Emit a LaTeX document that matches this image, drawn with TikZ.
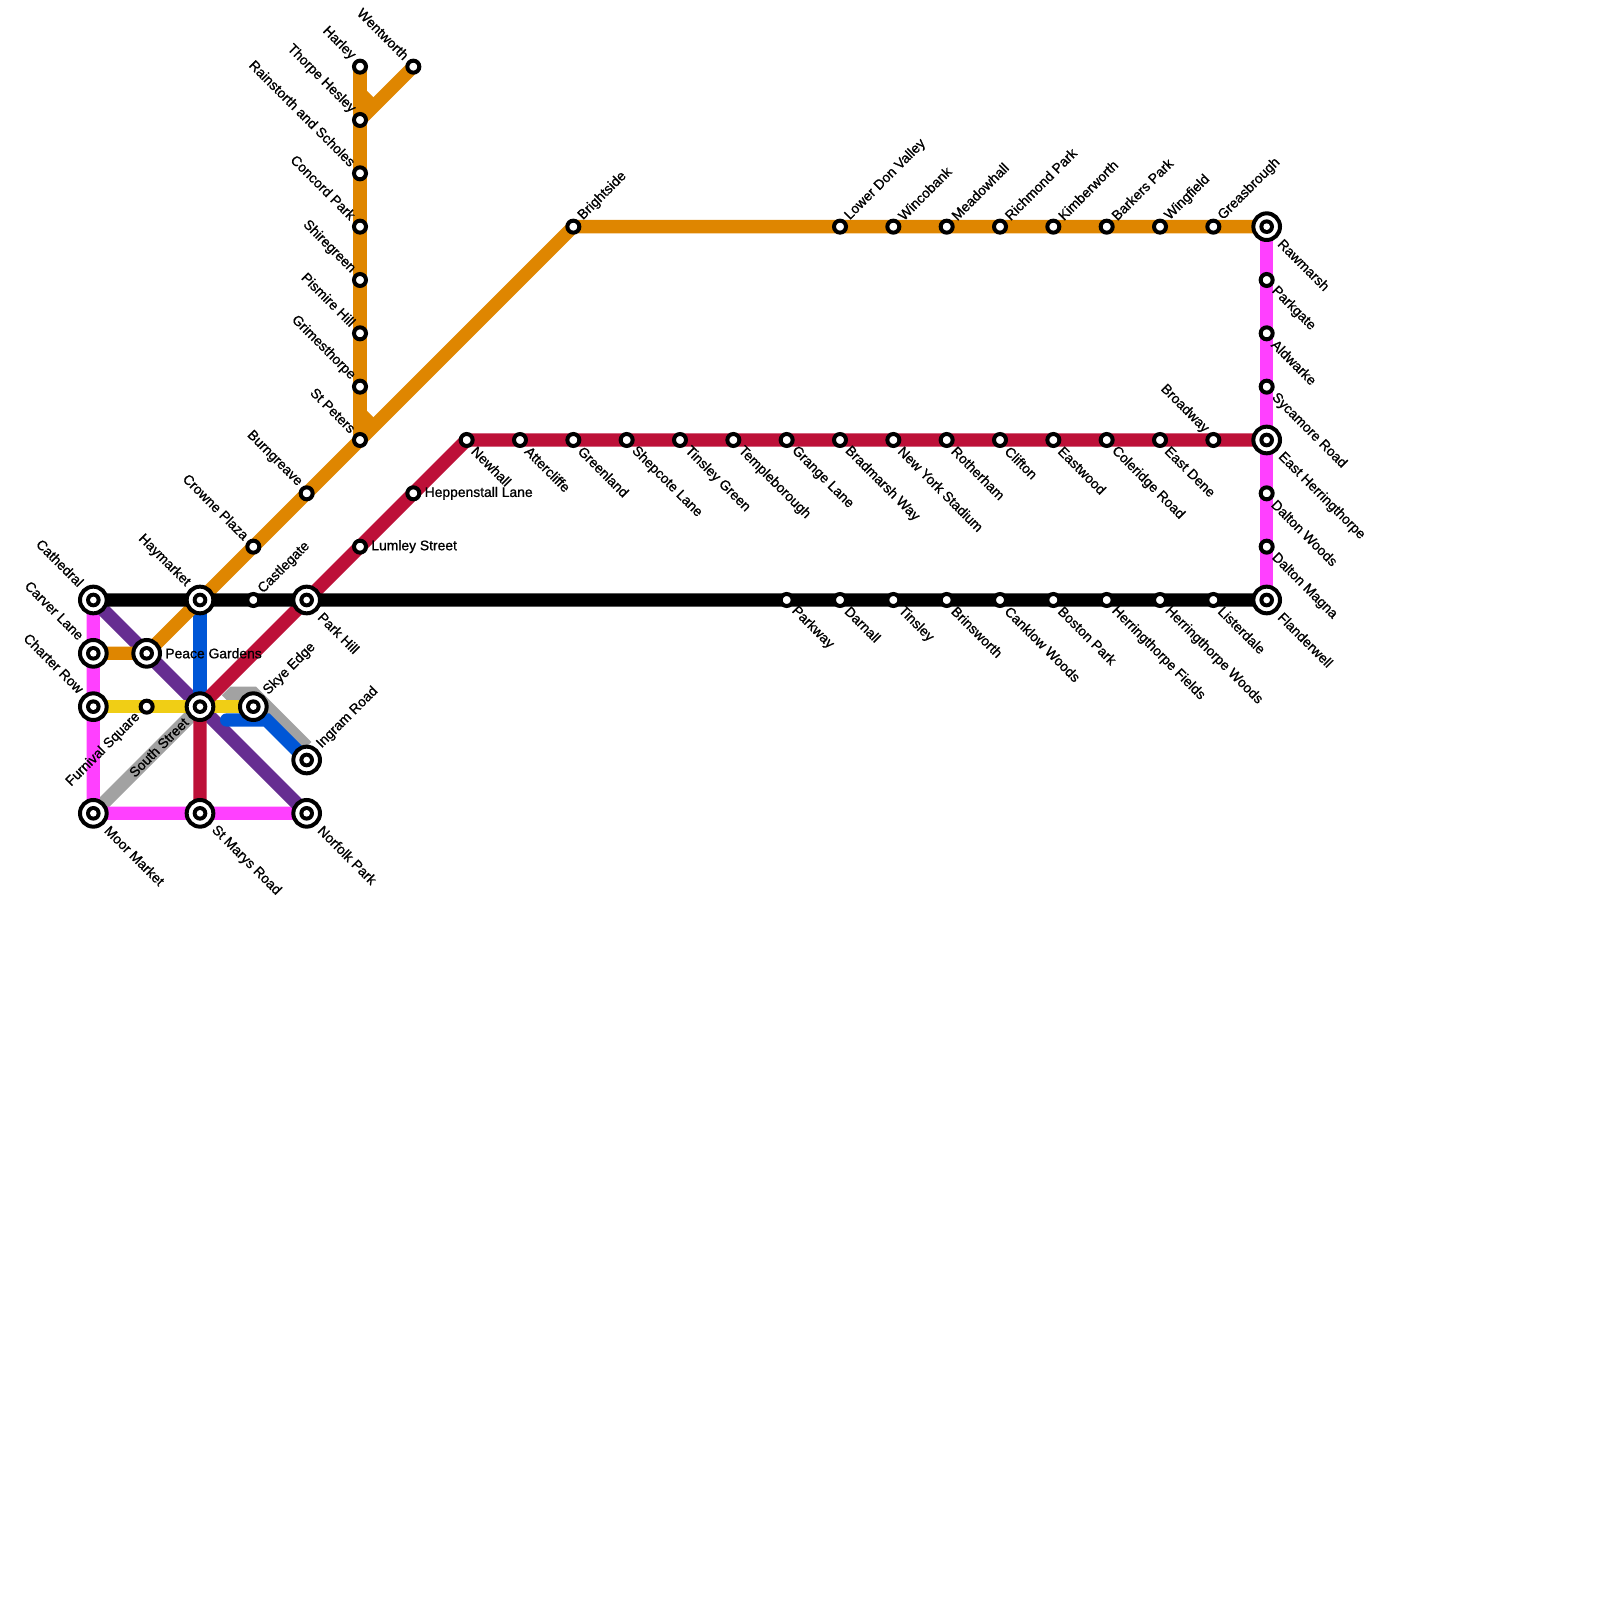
\documentclass[tikz,border=0pt]{standalone}
\usepackage{fontspec}
\usetikzlibrary{positioning, backgrounds}
\newfontfamily\stationfont{Liberation Sans}[FakeBold=0.9]
\definecolor{linemagenta}{HTML}{FF40FF}
\definecolor{lineorange}{HTML}{DF8600}
\definecolor{linecrimson}{HTML}{BD1038}
\definecolor{linepurple}{HTML}{662D91}
\definecolor{lineblue}{HTML}{0056D6}
\definecolor{lineyellow}{HTML}{F0CE15}
\definecolor{linegrey}{HTML}{A2A2A2}
\tikzset{
  % Stations
  stn/.style={
    circle, draw=black, fill=white, line width=0.075cm,
    minimum size=0.225cm, inner sep=0pt,
  },
  hub/.style={
    circle, draw=black, fill=white, line width=0.075cm,
    minimum size=0.5cm, inner sep=0pt,
    path picture={
      \fill[black] (path picture bounding box.center) circle (0.1375cm);
      \fill[white] (path picture bounding box.center) circle (0.0625cm);
    },
  },
  % Station labels
  lbl/.style={font=\stationfont\fontsize{7.4pt}{8pt}\selectfont, text=black, inner sep=0pt},
  nw/.style={lbl, rotate=-45, anchor=east, label distance=2.3pt, yshift=-0.7pt},
  nwhub/.style={nw, label distance=3pt},
  ne/.style={lbl, rotate=45, anchor=west, label distance=2.3pt, yshift=-1pt},
  sw/.style={lbl, rotate=45, anchor=east, label distance=2.8pt, yshift=2.2pt},
  se/.style={lbl, rotate=-45, anchor=west, label distance=2.3pt, yshift=1pt},
  sehub/.style={se, label distance=3.4pt, yshift=1pt},
  ee/.style={lbl, anchor=west, label distance=1.6pt},
  % Lines
  route/.style={draw=#1, line width=0.25cm},
}

\begin{document}
\begin{tikzpicture}[on grid, node distance=1cm and 1cm]
    \useasboundingbox (-1.75,11.25) rectangle (28.25,-18.75);

    % West end
    \node[hub, label={[nwhub]135:Cathedral}] (cathedral) at (0,0) {};
    \node[hub, label={[nwhub]135:Carver Lane}, below=of cathedral] (carver) {};
    \node[hub, label={[nwhub]135:Charter Row}, below=of carver] (charter) {};
    \node[hub, label={[sehub]-45:Moor Market}, below=2cm of charter] (moor) {};
    \node[hub, label={[ee]0:Peace Gardens}, right=of carver] (peace) {};
    \node[stn, label={[sw]225:Furnival Square}, right=of charter] (furnival) {};
    \node[hub, label={[nwhub]135:Haymarket}, right=2cm of cathedral] (haymarket) {};
    \node[hub, label={[sw]225:South Street}, right=2cm of charter] (south) {};
    \node[hub, label={[sehub]-45:St Marys Road}, right=2cm of moor] (stmarys) {};
    \node[stn, label={[ne]45:Castlegate}, right=of haymarket] (castlegate) {};
    \node[hub, label={[ne]45:Skye Edge}, right=of south] (skye) {};
    \node[hub, label={[sehub]-45:Park Hill}, right=of castlegate] (parkhill) {};
    \node[hub, label={[ne]45:Ingram Road}, below right=of skye] (ingram) {};
    \node[hub, label={[sehub]-45:Norfolk Park}, below=of ingram] (norfolk) {};

    % Orange diagonal and north branch
    \node[stn, label={[nw]135:Crowne Plaza}, above=of castlegate] (crowne) {};
    \node[stn, label={[nw]135:Burngreave}, above right=of crowne] (burngreave) {};
    \node[stn, label={[nw]135:St Peters}, above right=of burngreave] (stpeters) {};
    \node[stn, label={[nw]135:Grimesthorpe}, above=of stpeters] (grimesthorpe) {};
    \node[stn, label={[nw]135:Pismire Hill}, above=of grimesthorpe] (pismire) {};
    \node[stn, label={[nw]135:Shiregreen}, above=of pismire] (shiregreen) {};
    \node[stn, label={[nw]135:Concord Park}, above=of shiregreen] (concord) {};
    \node[stn, label={[nw]135:Rainstorth and Scholes}, above=of concord] (rainstorth) {};
    \node[stn, label={[nw]135:Thorpe Hesley}, above=of rainstorth] (thorpe) {};
    \node[stn, label={[nw]135:Harley}, above=of thorpe] (harley) {};
    \node[stn, label={[nw]135:Wentworth}, above right=of thorpe] (wentworth) {};
    \coordinate[above=0.5cm of thorpe] (harleybend);
    \coordinate[above=0.5cm of stpeters] (stpetersbend);
    \coordinate (harleystub) at ([shift={(0.2,-0.2)}]harleybend);
    \coordinate (stpetersstub) at ([shift={(0.2,-0.2)}]stpetersbend);

    % Orange east
    \node[stn, label={[ne]45:Brightside}, above right=4cm and 4cm of stpeters] (brightside) {};
    \node[stn, label={[ne]45:Lower Don Valley}, right=5cm of brightside] (lowerdon) {};
    \node[stn, label={[ne]45:Wincobank}, right=of lowerdon] (wincobank) {};
    \node[stn, label={[ne]45:Meadowhall}, right=of wincobank] (meadowhall) {};
    \node[stn, label={[ne]45:Richmond Park}, right=of meadowhall] (richmond) {};
    \node[stn, label={[ne]45:Kimberworth}, right=of richmond] (kimberworth) {};
    \node[stn, label={[ne]45:Barkers Park}, right=of kimberworth] (barkers) {};
    \node[stn, label={[ne]45:Wingfield}, right=of barkers] (wingfield) {};
    \node[stn, label={[ne]45:Greasbrough}, right=of wingfield] (greasbrough) {};
    \node[hub, label={[sehub]-45:Rawmarsh}, right=of greasbrough] (rawmarsh) {};

    % Magenta east
    \node[stn, label={[se]-45:Parkgate}, below=of rawmarsh] (parkgate) {};
    \node[stn, label={[se]-45:Aldwarke}, below=of parkgate] (aldwarke) {};
    \node[stn, label={[se]-45:Sycamore Road}, below=of aldwarke] (sycamore) {};
    \node[hub, label={[sehub]-45:East Herringthorpe}, below=of sycamore] (eastherr) {};
    \node[stn, label={[se]-45:Dalton Woods}, below=of eastherr] (daltonwoods) {};
    \node[stn, label={[se]-45:Dalton Magna}, below=of daltonwoods] (daltonmagna) {};
    \node[hub, label={[sehub]-45:Flanderwell}, below=of daltonmagna] (flanderwell) {};

    % Crimson
    \node[stn, label={[ee]0:Lumley Street}, above right=of parkhill] (lumley) {};
    \node[stn, label={[ee]0:Heppenstall Lane}, above right=of lumley] (heppenstall) {};
    \node[stn, label={[se]-45:Newhall}, above right=of heppenstall] (newhall) {};
    \node[stn, label={[se]-45:Attercliffe}, right=of newhall] (attercliffe) {};
    \node[stn, label={[se]-45:Greenland}, right=of attercliffe] (greenland) {};
    \node[stn, label={[se]-45:Shepcote Lane}, right=of greenland] (shepcote) {};
    \node[stn, label={[se]-45:Tinsley Green}, right=of shepcote] (tinsleygreen) {};
    \node[stn, label={[se]-45:Templeborough}, right=of tinsleygreen] (templeborough) {};
    \node[stn, label={[se]-45:Grange Lane}, right=of templeborough] (grange) {};
    \node[stn, label={[se]-45:Bradmarsh Way}, right=of grange] (bradmarsh) {};
    \node[stn, label={[se]-45:New York Stadium}, right=of bradmarsh] (newyork) {};
    \node[stn, label={[se]-45:Rotherham}, right=of newyork] (rotherham) {};
    \node[stn, label={[se]-45:Clifton}, right=of rotherham] (clifton) {};
    \node[stn, label={[se]-45:Eastwood}, right=of clifton] (eastwood) {};
    \node[stn, label={[se]-45:Coleridge Road}, right=of eastwood] (coleridge) {};
    \node[stn, label={[se]-45:East Dene}, right=of coleridge] (eastdene) {};
    \node[stn, label={[nw]135:Broadway}, right=of eastdene] (broadway) {};

    % Black
    \node[stn, label={[se]-45:Parkway}, below=3cm of grange] (parkway) {};
    \node[stn, label={[se]-45:Darnall}, right=of parkway] (darnall) {};
    \node[stn, label={[se]-45:Tinsley}, right=of darnall] (tinsley) {};
    \node[stn, label={[se]-45:Brinsworth}, right=of tinsley] (brinsworth) {};
    \node[stn, label={[se]-45:Canklow Woods}, right=of brinsworth] (canklow) {};
    \node[stn, label={[se]-45:Boston Park}, right=of canklow] (boston) {};
    \node[stn, label={[se]-45:Herringthorpe Fields}, right=of boston] (herrfields) {};
    \node[stn, label={[se]-45:Herringthorpe Woods}, right=of herrfields] (herrwoods) {};
    \node[stn, label={[se]-45:Listerdale}, right=of herrwoods] (listerdale) {};

    % Bends of the blue and grey branch
    \coordinate[below right=0.25cm and 0.5cm of south] (bluestart);
    \coordinate[below right=0.25cm and 1.25cm of south] (bluebend);
    \coordinate[above right=0.125cm and 0.5cm of south] (greystart);
    \coordinate[above right=0.25cm and 0.625cm of south] (greytop);
    \coordinate[above=0.25cm of skye] (greybend);
    \coordinate[above=0.25cm of ingram] (greyend);

    \begin{scope}[on background layer]
      \draw[route=linegrey] (moor.center) -- (south.center);
      \draw[route=linegrey] (greystart) -- (greytop) -- (greybend) -- (greyend);
      \draw[route=linemagenta] (cathedral.center) -- (moor.center) -- (norfolk.center);
      \draw[route=linemagenta] (rawmarsh.center) -- (flanderwell.center);
      \draw[route=linepurple] (cathedral.center) -- (norfolk.center);
      \draw[route=lineblue] (haymarket.center) -- (south.center);
      \draw[route=lineblue, line cap=round] (bluestart) -- (bluebend) -- (ingram.center);
      \draw[route=lineyellow] (charter.center) -- (skye.center);
      \draw[route=lineorange] (carver.center) -- (peace.center) -- (brightside.center) -- (rawmarsh.center);
      \draw[route=lineorange] (harley.center) -- (stpeters.center);
      \draw[route=lineorange] (wentworth.center) -- (thorpe.center);
      \draw[route=lineorange] (harleybend) -- (harleystub);
      \draw[route=lineorange] (stpetersbend) -- (stpetersstub);
      \draw[route=linecrimson] (stmarys.center) -- (south.center) -- (newhall.center) -- (eastherr.center);
      \draw[route=black] (cathedral.center) -- (flanderwell.center);
    \end{scope}
  \end{tikzpicture}
\end{document}
